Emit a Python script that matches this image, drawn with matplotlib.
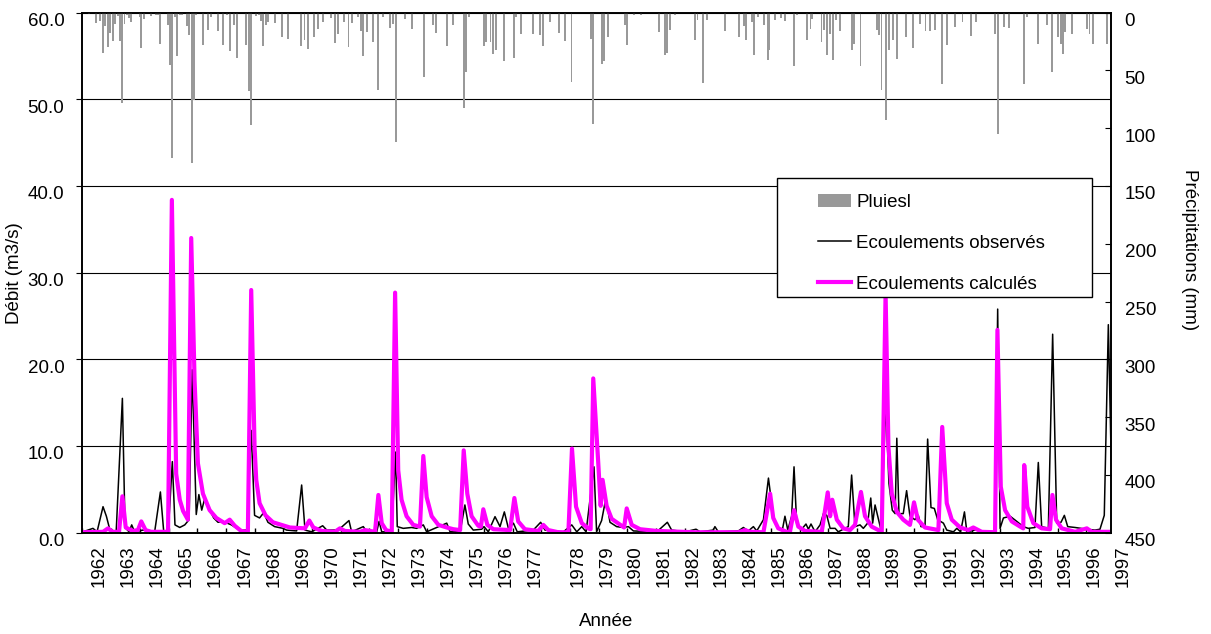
import matplotlib
matplotlib.use("Agg")
import matplotlib.pyplot as plt
from matplotlib.patches import Patch, Rectangle
from matplotlib.lines import Line2D
from matplotlib.ticker import FormatStrFormatter
from matplotlib.transforms import ScaledTranslation

plt.rcParams['font.family'] = ['Liberation Sans', 'DejaVu Sans']
plt.rcParams['font.size'] = 13.5

# abscisse : mois depuis le debut de la serie
obs_mois = [0.2, 4.4, 6.1, 8.6, 10.0, 11.4, 14.1, 16.7, 17.8, 19.5, 20.6, 21.8, 25.3, 30.2,
            32.6, 34.0, 35.9, 37.6, 38.7, 40.7, 42.8, 44.6, 45.9, 47.6, 48.7, 49.9, 51.1,
            52.9, 54.9, 56.7, 58.8, 62.3, 65.8, 68.8, 70.6, 72.0, 74.1, 75.8, 77.6, 80.4,
            83.9, 85.4, 89.6, 91.7, 93.1, 95.9, 100.5, 102.2, 107.0, 111.5, 112.6, 117.5,
            118.9, 123.1, 124.1, 125.2, 129.4, 131.0, 131.7, 134.2, 137.7, 139.8, 142.6,
            144.0, 152.4, 153.8, 158.0, 160.0, 161.4, 163.5, 167.0, 168.0, 169.8, 172.6,
            174.7, 176.5, 178.2, 180.3, 181.9, 188.6, 191.7, 193.5, 201.2, 204.7, 206.8,
            208.9, 210.7, 214.0, 215.1, 217.2, 219.0, 220.7, 223.5, 226.3, 228.4, 230.5,
            240.3, 244.7, 246.5, 252.1, 256.7, 258.4, 263.9, 264.6, 266.0, 274.4, 276.5,
            278.6, 280.7, 282.1, 284.9, 287.0, 289.0, 291.1, 292.8, 293.9, 295.1, 296.7,
            297.7, 298.8, 300.9, 302.7, 303.7, 304.8, 306.5, 308.6, 310.0, 311.4, 312.8,
            314.9, 316.2, 320.4, 321.8, 323.2, 325.3, 326.7, 328.5, 329.8, 330.6, 331.6,
            332.7, 334.1, 336.1, 337.4, 338.8, 340.0, 340.7, 341.6, 343.4, 344.8, 346.2,
            348.3, 349.7, 350.8, 352.5, 353.6, 355.0, 356.4, 357.8, 360.2, 361.6, 364.4,
            365.8, 367.4, 369.0, 370.0, 373.4, 380.4, 381.8, 382.9, 383.9, 385.3, 388.1,
            390.9, 393.6, 395.7, 398.5, 399.9, 401.3, 404.1, 405.9, 407.6, 409.4, 410.8,
            412.2, 415.3, 420.2, 423.6, 425.7, 427.5, 429.2, 431.0]
obs_debit = [0.1, 0.5, 0.1, 3.0, 1.9, 0.4, 0.1, 15.5, 0.6, 0.1, 0.9, 0.1, 0.3, 0.1,
             4.7, 0.1, 0.2, 8.2, 0.9, 0.6, 0.9, 1.5, 18.8, 2.1, 4.4, 2.6, 3.9,
             2.8, 1.7, 1.2, 1.3, 0.9, 0.3, 0.3, 11.8, 2.0, 1.7, 2.3, 1.2, 0.7,
             0.5, 0.3, 0.2, 5.5, 0.3, 0.1, 0.8, 0.3, 0.3, 1.4, 0.1, 0.7,
             0.1, 0.1, 1.3, 0.1, 0.1, 9.3, 0.7, 0.5, 0.6, 0.5, 0.9,
             0.1, 1.1, 0.1, 0.1, 3.2, 1.0, 0.3, 0.4, 0.7, 0.1, 1.85,
             0.7, 2.4, 0.5, 1.1, 0.1, 0.3, 1.2, 0.3, 0.1, 0.9, 0.1,
             0.7, 0.1, 7.6, 0.1, 1.4, 4.0, 1.2, 0.7, 0.6, 0.7, 0.2,
             0.1, 1.2, 0.3, 0.1, 0.4, 0.1, 0.3, 0.7, 0.1, 0.2, 0.6,
             0.2, 0.7, 0.2, 1.5, 6.3, 1.9, 0.5, 0.3, 1.9, 0.3, 1.9,
             7.6, 1.1, 0.4, 1.0, 0.4, 1.0, 0.1, 0.9, 2.2, 2.0, 0.5,
             0.5, 0.1, 0.7, 6.65, 0.7, 0.9, 0.5, 1.1, 4.0, 1.1, 3.2,
             1.9, 0.3, 15.0, 5.7, 2.6, 2.2, 10.9, 2.2, 2.2, 4.85, 1.9,
             1.5, 2.0, 0.7, 0.7, 10.8, 2.9, 2.8, 1.5, 1.1, 0.3, 0.1,
             0.5, 0.1, 2.4, 0.1, 0.3, 0.1, 0.1, 25.8, 0.5, 1.7, 1.9,
             1.3, 0.7, 0.5, 0.6, 8.1, 0.7, 0.5, 22.9, 1.1, 1.2, 2.0,
             0.7, 0.6, 0.4, 0.3, 0.4, 2.0, 24.0, 0.5]

calc_mois = [0.2, 8.6, 10.7, 12.5, 15.3, 16.7, 18.1, 21.1, 23.2, 24.6, 26.4, 28.8, 35.8,
             37.4, 39.2, 40.7, 42.1, 44.1, 45.5, 46.9, 48.3, 50.4, 53.2, 56.0, 59.5, 61.6,
             63.7, 66.4, 69.2, 70.6, 72.0, 72.7, 74.1, 76.6, 79.7, 86.8, 93.1, 94.9, 96.6,
             100.1, 105.6, 107.7, 109.8, 116.1, 118.2, 122.4, 123.8, 125.2, 127.0, 129.4,
             130.8, 132.1, 133.5, 135.6, 138.4, 141.2, 142.6, 144.0, 146.1, 148.9, 152.4,
             155.2, 158.0, 159.5, 161.0, 162.8, 165.6, 166.7, 167.7, 169.4, 171.9, 178.9,
             180.7, 182.3, 185.1, 190.7, 192.8, 194.9, 199.1, 203.3, 204.8, 206.5, 208.9,
             211.6, 212.6, 213.7, 215.8, 216.8, 217.6, 219.3, 221.4, 225.6, 226.6, 227.7,
             229.8, 233.3, 240.3, 256.3, 274.4, 277.2, 279.3, 284.9, 287.7, 289.0, 291.1,
             294.6, 296.0, 297.7, 299.5, 302.3, 309.3, 311.8, 312.8, 313.7, 315.6, 318.3,
             321.1, 323.2, 325.7, 327.4, 330.2, 333.0, 334.4, 336.0, 337.2, 338.6, 340.7,
             343.4, 346.2, 347.9, 349.5, 352.5, 358.1, 359.7, 361.6, 363.7, 367.2, 370.6,
             372.7, 376.2, 381.8, 382.8, 384.2, 386.0, 388.8, 392.3, 393.6, 394.0, 395.3,
             397.8, 401.3, 404.8, 405.8, 407.3, 409.7, 415.3, 420.2, 422.3, 429.9]
calc_debit = [0.05, 0.1, 0.5, 0.1, 0.1, 4.2, 0.6, 0.2, 0.3, 1.3, 0.3, 0.1, 0.1,
              38.4, 6.8, 3.8, 2.5, 1.5, 34.0, 17.6, 8.0, 4.5, 2.6, 1.7, 1.1, 1.5,
              0.8, 0.2, 0.1, 28.0, 9.9, 6.1, 3.4, 2.0, 1.2, 0.6, 0.5, 1.4, 0.6,
              0.2, 0.1, 0.5, 0.2, 0.1, 0.3, 0.1, 4.35, 1.1, 0.3, 0.1,
              27.7, 7.2, 3.8, 1.9, 0.9, 0.7, 8.85, 4.1, 1.9, 0.9, 0.6,
              0.4, 0.3, 9.5, 4.5, 1.9, 0.8, 0.7, 2.7, 0.9, 0.4, 0.3,
              4.0, 1.3, 0.4, 0.2, 0.9, 0.3, 0.05, 0.05, 9.7, 3.0, 1.1,
              0.5, 0.4, 17.8, 8.0, 3.1, 6.1, 3.1, 1.6, 0.8, 0.6, 2.8,
              0.9, 0.4, 0.2, 0.05, 0.05, 0.3, 0.1, 0.05, 4.5, 1.7, 0.5,
              0.1, 0.1, 2.6, 0.7, 0.2, 0.1, 4.65, 1.9, 3.8, 1.5, 0.5,
              0.3, 0.9, 4.7, 1.9, 0.7, 0.3, 0.1, 27.6, 9.9, 4.5, 2.4,
              1.5, 0.9, 3.5, 1.5, 0.6, 0.3, 12.2, 3.4, 1.5, 0.6, 0.3,
              0.6, 0.1, 0.05, 23.4, 5.3, 2.6, 1.3, 0.7, 0.5, 7.8, 3.0,
              1.1, 0.5, 0.4, 4.35, 1.5, 0.5, 0.1, 0.5, 0.1, 0.1]

pluie_mois = [2.6, 5.8, 7.5, 8.4, 9.6, 10.8, 11.6, 12.6, 13.7, 14.7, 15.7, 16.5, 17.6, 18.6,
              19.6, 20.4, 23.9, 24.6, 25.6, 28.5, 30.6, 31.6, 32.6, 35.6, 36.8, 37.6, 38.7,
              39.7, 40.7, 41.6, 43.6, 44.7, 45.7, 46.7, 47.6, 50.6, 52.7, 53.6, 56.6, 58.7,
              60.6, 61.7, 63.5, 64.5, 68.6, 69.7, 70.7, 72.7, 73.7, 74.7, 75.7, 76.7, 77.8,
              80.7, 83.5, 85.8, 91.6, 92.9, 94.4, 96.7, 98.5, 100.6, 103.9, 105.8, 106.9,
              109.4, 111.3, 112.8, 115.1, 116.4, 117.5, 118.9, 121.5, 123.7, 125.8, 128.8,
              129.9, 131.0, 135.1, 137.8, 142.7, 146.7, 147.8, 152.7, 155.0, 159.7, 160.5,
              161.7, 168.1, 168.9, 170.7, 171.7, 172.9, 176.3, 180.4, 181.5, 183.6, 188.6,
              191.6, 192.6, 195.6, 199.5, 201.7, 204.6, 212.8, 213.7, 217.4, 218.2, 219.8,
              226.8, 227.9, 230.7, 233.6, 241.3, 243.6, 244.6, 245.9, 248.0, 256.2, 257.3,
              259.7, 261.4, 269.0, 274.8, 276.9, 277.7, 280.1, 280.9, 282.6, 285.0, 286.7,
              287.2, 289.9, 292.4, 294.0, 297.8, 298.9, 303.0, 304.6, 305.4, 309.2, 310.3,
              311.6, 312.8, 314.0, 315.2, 316.9, 321.8, 322.6, 325.5, 332.3, 333.2, 334.3,
              336.1, 337.6, 339.2, 340.8, 344.6, 347.5, 350.3, 352.7, 354.4, 356.8, 359.7,
              361.7, 365.0, 368.2, 371.8, 373.9, 381.6, 382.9, 385.4, 387.5, 393.9, 395.2,
              399.7, 403.6, 405.7, 408.2, 409.3, 410.3, 411.1, 413.9, 420.4, 421.3, 422.9,
              428.6]
pluie_mm = [1, 8.9, 7.5, 34.9, 11.8, 29.7, 17.6, 24.8, 9.5, 3.1, 24.2, 78.1, 9.5, 1.7,
            4.6, 8.1, 4, 30.5, 5.2, 2.6, 1.7, 1.7, 27.1, 10.9, 45.5, 125.7, 4,
            37.7, 2.3, 1.7, 11.8, 19.6, 130, 75.3, 2.3, 28.2, 14.7, 4, 16.1, 27.6,
            2.3, 33.4, 10.4, 39.2, 27.6, 67.5, 97.4, 3.1, 1.7, 6.9, 29.1, 10.4, 8.1,
            8.9, 21.3, 22.5, 28.9, 24, 31.2, 21.1, 13.9, 8.1, 4.3, 26.3, 18.2,
            8.1, 29.7, 8.9, 3.8, 15.9, 37.5, 16.7, 25.4, 67.2, 3.8, 13,
            10.1, 112, 5.2, 13.9, 55.7, 11, 17.6, 28.9, 11, 82.5, 51.4,
            3.8, 28.9, 25.4, 25.4, 35.5, 32.6, 41.8, 39, 3.8, 18.2, 18.2,
            19, 28.9, 8.1, 17.6, 24.5, 60, 22.5, 96, 44, 42, 21.1,
            11, 28.3, 2.3, 2.3, 16.8, 37, 34.7, 14.7, 2.3, 23.4, 6.6,
            61, 6.6, 15.9, 21.1, 11.8, 23.4, 8.1, 36.4, 3.8, 11, 40.7,
            32.7, 6.6, 4.3, 7.2, 46.2, 2.3, 24, 13.9, 5.2, 25.4, 15.3,
            37, 18.2, 40.7, 6.6, 15.9, 32.7, 26.9, 46.2, 15.3, 19.7, 67.3,
            93.3, 32.7, 24, 39.9, 21.1, 30.3, 9.5, 15.9, 15.9, 15.3, 61.6,
            28.3, 12.4, 8.1, 20.5, 8.1, 18.2, 105, 12.4, 13, 61.6, 3.8,
            26.9, 11, 51.4, 21.1, 26.9, 35.5, 16.8, 18.2, 13.9, 18.2, 26.9,
            26.9]

annees = list(range(1962, 1998))

# position des etiquettes d'annees (decalage d'un semestre apres 1977)
pos_annees = [7.0 + 12.17 * (a - 1962) if a <= 1977 else 435.3 - 12 * (1997 - a) for a in annees]

fig = plt.figure(figsize=(12.11, 6.34), dpi=100)
ax = fig.add_axes([0.0681, 0.1598, 0.8491, 0.8202])
ax2 = ax.twinx()

ax2.bar(pluie_mois, pluie_mm, width=0.8, color='#999999', linewidth=0)
ax.plot(obs_mois, obs_debit, color='black', lw=1.1)
ax.plot(calc_mois, calc_debit, color='#ff00ff', lw=3)

ax.set_xlim(0, 430.2)
ax.set_ylim(0, 60)
ax.set_yticks(range(0, 61, 10))
ax.yaxis.set_major_formatter(FormatStrFormatter('%.1f'))
ax.yaxis.grid(True, color='black', lw=0.8)
ax.set_axisbelow(True)

ax2.set_ylim(450, 0)
ax2.set_yticks(range(0, 451, 50))

ax.set_xticks(pos_annees[:-1])
ax.set_xticklabels([str(a) for a in annees[:-1]], rotation=90)
ax.set_xticks(range(0, 431, 12), minor=True)
ax.tick_params(axis='x', which='major', length=0, pad=9)
ax.tick_params(axis='x', which='minor', direction='in', length=3.5, width=1)
ax.tick_params(axis='y', direction='out', length=4, pad=9)
ax2.tick_params(axis='y', direction='in', length=4, pad=10)

# les etiquettes des axes y sont un peu sous leur graduation
decale = ScaledTranslation(0, -5 / 72, fig.dpi_scale_trans)
for lab in ax.get_yticklabels() + ax2.get_yticklabels():
    lab.set_transform(lab.get_transform() + decale)

# derniere etiquette, au-dela du cadre
ax.annotate(str(annees[-1]), xy=(pos_annees[-1], 0), xycoords=('data', 'axes fraction'),
            xytext=(0, -9), textcoords='offset points', rotation=90,
            ha='center', va='top', annotation_clip=False)

for a in (ax, ax2):
    for s in a.spines.values():
        s.set_linewidth(1.2)
        s.set_color('black')

ax.set_xlabel('Année', va='top')
ax.xaxis.set_label_coords(0.5096, -0.155)
ax.set_ylabel('Débit (m3/s)')
ax.yaxis.set_label_coords(-0.058, 0.4985)
ax2.set_ylabel('Précipitations (mm)', rotation=270, va='bottom')
ax2.yaxis.set_label_coords(1.0684, 0.544)

# legende encadree
cadre = Rectangle((0.6755, 0.4533), 0.3063, 0.2287, transform=ax2.transAxes,
                  facecolor='white', edgecolor='black', lw=1, zorder=10)
ax2.add_patch(cadre)
handles = [Patch(facecolor='#999999', edgecolor='none'),
           Line2D([], [], color='black', lw=1.1),
           Line2D([], [], color='#ff00ff', lw=3)]
labels = ['Pluiesl', 'Ecoulements observés', 'Ecoulements calculés']
leg = ax2.legend(handles, labels, loc='upper left', bbox_to_anchor=(0.7153, 0.6506),
                 frameon=False, borderpad=0, borderaxespad=0, handlelength=1.75,
                 handletextpad=0.3, labelspacing=1.25, fontsize=13.5)
leg.set_zorder(11)

fig.savefig('out.png', dpi=100)
